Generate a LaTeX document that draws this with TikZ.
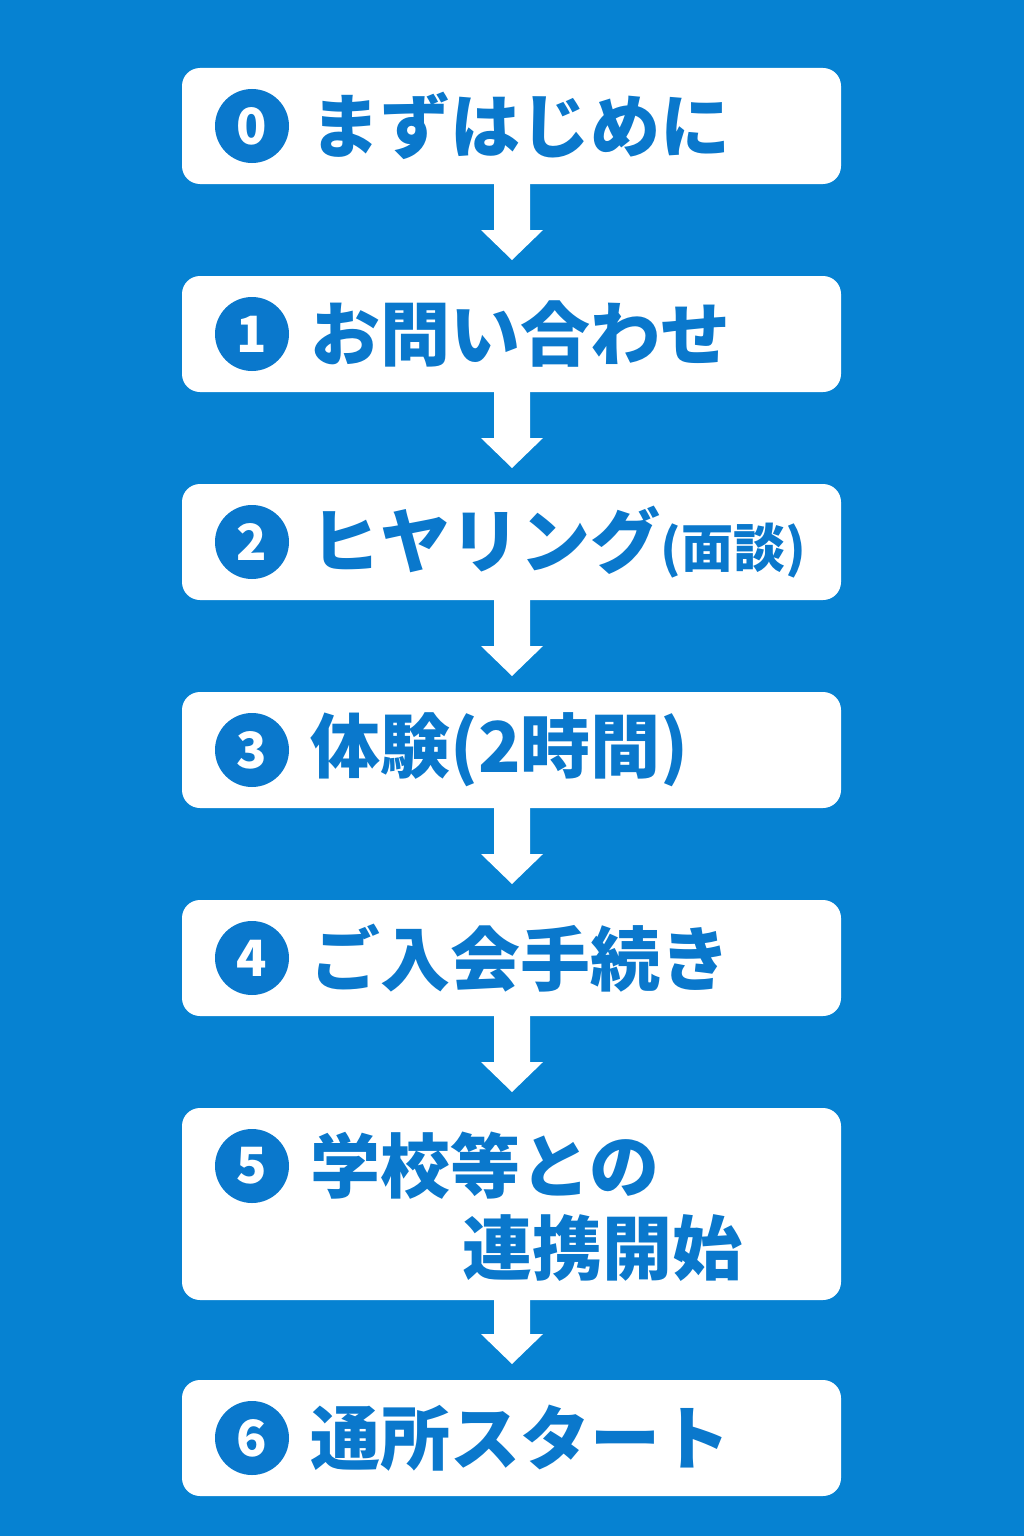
\documentclass[tikz,border=0pt]{standalone}
\usepackage{fontspec}
\newfontfamily\cjk{Noto Sans CJK JP}
\definecolor{bg}{HTML}{0682D2}
\definecolor{tx}{HTML}{0A78CC}
\begin{document}
\begin{tikzpicture}[x=1pt,y=-1pt,
  box/.style={fill=white,rounded corners=18pt},
  num/.style={circle,fill=tx,text=white,minimum size=74pt,inner sep=0pt,font=\cjk\bfseries\fontsize{50}{50}\selectfont},
  lbl/.style={anchor=west,text=tx,inner sep=0pt,font=\cjk\bfseries\fontsize{70}{84}\selectfont},
  arr/.style={fill=white}]
\fill[bg] (0,0) rectangle (1024,1536);
\useasboundingbox (0,0) rectangle (1024,1536);
\def\tops{68/184/0,276/392/1,484/600/2,692/808/3,900/1016/4,1108/1300/5,1380/1496/6}
\foreach \t/\b/\i in \tops {
  \path[box] (182,\t) rectangle (841,\b);
}
\foreach \b/\n in {184/276,392/484,600/692,808/900,1016/1108,1300/1380}{
  \fill[arr] (494,\b) -- (530,\b) -- (530,\n-46) -- (543,\n-46) -- (512,\n-16) -- (481,\n-46) -- (494,\n-46) -- cycle;
}
\node[num] (n0) at (252,126) {0};
\node[num] (n1) at (252,334) {1};
\node[num] (n2) at (252,542) {2};
\node[num] (n3) at (252,750) {3};
\node[num] (n4) at (252,958) {4};
\node[num] (n5) at (252,1166) {5};
\node[num] (n6) at (252,1438) {6};
\node[lbl] (t0) at (310,126) {まずはじめに};
\node[lbl] (t1) at (310,334) {お問い合わせ};
\node[lbl] (t2) at (310,542) {ヒヤリング\fontsize{52}{60}\selectfont (面談)};
\node[lbl] (t3) at (310,750) {体験(2時間)};
\node[lbl] (t4) at (310,958) {ご入会手続き};
\node[lbl] (t5) at (310,1166) {学校等との};
\node[lbl] (t5b) at (462,1248) {連携開始};
\node[lbl] (t6) at (310,1438) {通所スタート};
\end{tikzpicture}
\end{document}
